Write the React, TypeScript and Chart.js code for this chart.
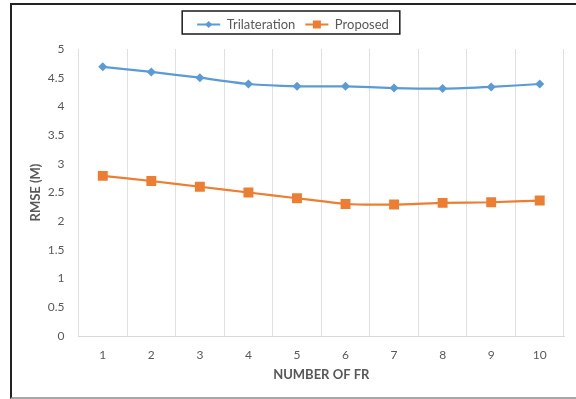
import React, { useEffect, useRef } from "react";
import { Chart, registerables } from "chart.js";

Chart.register(...registerables);

const categories = ["1", "2", "3", "4", "5", "6", "7", "8", "9", "10"];
const trilateration = [4.69, 4.6, 4.5, 4.39, 4.35, 4.35, 4.32, 4.31, 4.34, 4.39];
const proposed = [2.79, 2.7, 2.6, 2.5, 2.4, 2.3, 2.29, 2.32, 2.33, 2.36];
const seriesNames = ["Trilateration", "Proposed"];
const seriesColors = ["#5B9BD5", "#ED7D31"];

const FONT = "Lato, 'Open Sans', sans-serif";
const TXT = "#595959";

const legendDecor = {
  id: "legendDecor",
  beforeLayout(chart: any) {
    const lg = chart.legend;
    if (lg && !lg.__patched) {
      const orig = lg.fit;
      lg.fit = function () {
        orig.call(this);
        this.height += 8;
      };
      lg.__patched = true;
    }
  },
  afterDraw(chart: any) {
    const lg = chart.legend;
    if (!lg || !lg.legendHitBoxes || !lg.legendHitBoxes.length) return;
    const ctx = chart.ctx;
    const boxes = lg.legendHitBoxes;
    const bw = lg.options.labels.boxWidth;
    let minL = Infinity, maxR = -Infinity, minT = Infinity, maxB = -Infinity;
    boxes.forEach((b: any) => {
      minL = Math.min(minL, b.left);
      maxR = Math.max(maxR, b.left + b.width);
      minT = Math.min(minT, b.top);
      maxB = Math.max(maxB, b.top + b.height);
    });
    ctx.save();
    ctx.strokeStyle = "#1a1a1a";
    ctx.lineWidth = 1.5;
    ctx.strokeRect(minL - 15, minT - 7, maxR - minL + 26, maxB - minT + 10);
    boxes.forEach((b: any, i: number) => {
      const cx = b.left + bw / 2;
      const cy = b.top + b.height / 2;
      ctx.fillStyle = seriesColors[i];
      ctx.strokeStyle = seriesColors[i];
      ctx.lineWidth = 2;
      ctx.beginPath();
      ctx.moveTo(b.left, cy);
      ctx.lineTo(b.left + bw, cy);
      ctx.stroke();
      ctx.beginPath();
      if (i === 0) {
        ctx.moveTo(cx, cy - 3.5);
        ctx.lineTo(cx + 3.5, cy);
        ctx.lineTo(cx, cy + 3.5);
        ctx.lineTo(cx - 3.5, cy);
        ctx.closePath();
        ctx.fill();
      } else {
        ctx.fillRect(cx - 4, cy - 4, 8, 8);
      }
    });
    ctx.restore();
  },
};

export default function App() {
  const ref = useRef<HTMLCanvasElement>(null);

  useEffect(() => {
    if (!ref.current) return;
    const chart = new Chart(ref.current, {
      type: "line",
      data: {
        labels: categories,
        datasets: [
          {
            label: seriesNames[0],
            data: trilateration,
            borderColor: seriesColors[0],
            backgroundColor: seriesColors[0],
            borderWidth: 2.2,
            pointStyle: "rectRot",
            pointRadius: 4.5,
            pointBorderWidth: 0,
            tension: 0.15,
          },
          {
            label: seriesNames[1],
            data: proposed,
            borderColor: seriesColors[1],
            backgroundColor: seriesColors[1],
            borderWidth: 2.2,
            pointStyle: "rect",
            pointRadius: 7,
            pointBorderWidth: 0,
            tension: 0.15,
          },
        ],
      },
      options: {
        animation: false,
        responsive: false,
        maintainAspectRatio: false,
        layout: { padding: { top: 8, right: 12, left: 22, bottom: 0 } },
        plugins: {
          tooltip: { enabled: false },
          legend: {
            position: "top",
            labels: {
              boxWidth: 23,
              boxHeight: 2,
              padding: 10,
              color: TXT,
              font: { family: FONT, size: 13 },
              generateLabels: () =>
                seriesNames.map((n, i) => ({
                  text: n,
                  fillStyle: "rgba(0,0,0,0)",
                  strokeStyle: "rgba(0,0,0,0)",
                  lineWidth: 0,
                  hidden: false,
                  datasetIndex: i,
                  fontColor: TXT,
                })),
            },
          },
        },
        scales: {
          x: {
            type: "category",
            offset: true,
            grid: { display: true, offset: true, color: "#E0E0E0", drawTicks: false, lineWidth: 1 },
            border: { display: true, color: "#D9D9D9" },
            ticks: { color: TXT, font: { family: FONT, size: 12 }, padding: 12, maxRotation: 0 },
            title: {
              display: true,
              text: "NUMBER OF FR",
              color: TXT,
              font: { family: FONT, size: 13, weight: "bold" },
              padding: { top: 0, bottom: 16 },
            },
            afterFit: (s: any) => {
              s.height = 63;
            },
          },
          y: {
            min: 0,
            max: 5,
            ticks: {
              stepSize: 0.5,
              color: TXT,
              font: { family: FONT, size: 12 },
              padding: 14,
              callback: (v: any) => String(Math.round(Number(v) * 10) / 10),
            },
            grid: { display: false, drawTicks: false },
            border: { display: false },
            title: {
              display: true,
              text: "RMSE (M)",
              color: TXT,
              font: { family: FONT, size: 13, weight: "bold" },
              padding: { top: 6, bottom: 0 },
            },
            afterFit: (s: any) => {
              s.width = 56.5;
            },
          },
        },
      },
      plugins: [legendDecor],
    });
    return () => chart.destroy();
  }, []);

  return (
    <div style={{ position: "fixed", left: 0, top: 0, width: 576, height: 399, background: "#fff" }}>
      <div
        style={{
          position: "absolute",
          left: 10,
          top: 3,
          width: 580,
          height: 392,
          borderLeft: "2px solid #222",
          borderTop: "2px solid #222",
          borderBottom: "2px solid #a6a6a6",
        }}
      />
      <canvas ref={ref} width={576} height={399} style={{ position: "absolute", left: 0, top: 0 }} />
    </div>
  );
}
